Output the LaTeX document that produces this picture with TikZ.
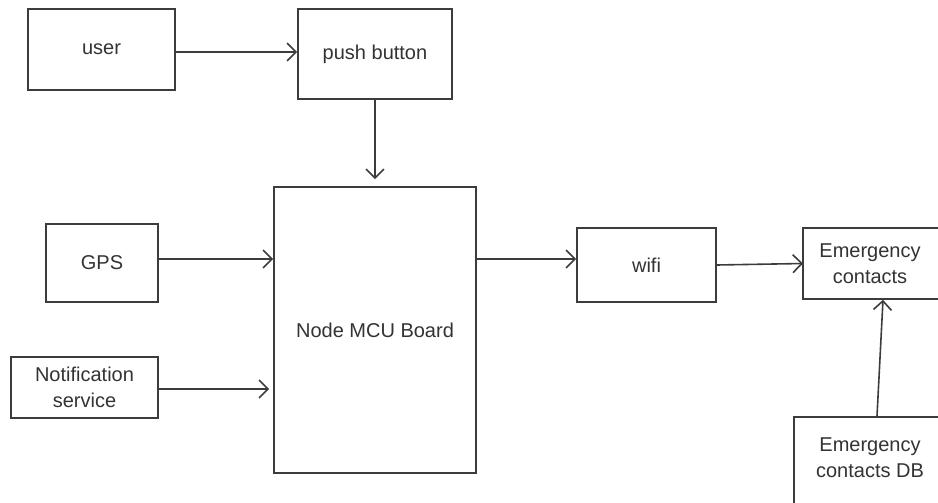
\documentclass[tikz,border=0pt]{standalone}
\usepackage{fontspec}
\setmainfont{Liberation Sans}
\usetikzlibrary{arrows.meta}
\definecolor{ln}{HTML}{3C3C3C}
\definecolor{tx}{HTML}{333333}
\tikzset{
  blk/.style={draw=ln, line width=1.6pt, rectangle, inner sep=0pt, align=center,
    text=tx, font=\fontsize{20}{26}\selectfont},
  lbl/.style={text=tx, font=\fontsize{20}{26}\selectfont, align=center},
  conn/.style={draw=ln, line width=1.6pt, -{Straight Barb[length=9pt,width=18pt,line width=1.6pt]}}
}
\begin{document}
\begin{tikzpicture}[x=1pt,y=-1pt]
\useasboundingbox[fill=white] (0,0) rectangle (938,503);
\clip (0,0) rectangle (938,503);
\node[blk, minimum width=147pt, minimum height=81pt] (user) at (101.5,49.5) {user};
\node[blk, minimum width=154pt, minimum height=90pt] (push) at (375,54) {push button};
\node[blk, minimum width=202pt, minimum height=286pt] (mcu) at (375,330) {Node MCU Board};
\node[blk, minimum width=112pt, minimum height=78pt] (gps) at (102,263) {GPS};
\node[blk, minimum width=147pt, minimum height=61pt] (notif) at (84.5,387.5) {Notification\\service};
\node[blk, minimum width=139pt, minimum height=74pt] (wifi) at (646.5,265) {wifi};
\node[blk, minimum width=144pt, minimum height=71pt] (ec) at (875,263.5) {};
\node[lbl] (ect) at (870,263.5) {Emergency\\contacts};
\node[blk, minimum width=152pt, minimum height=100pt] (db) at (870,467) {};
\node[lbl] (dbt) at (870,458) {Emergency\\contacts DB};
\draw[conn] ([yshift=-2.5pt]user.east) -- ([yshift=-2.5pt]user.east -| push.west);
\draw[conn, shorten >=7pt] (push.south) -- (mcu.north);
\draw[conn] ([yshift=4pt]gps.east) -- ([yshift=4pt]gps.east -| mcu.west);
\draw[conn, shorten >=4pt] ([yshift=-1.5pt]notif.east) -- ([yshift=-1.5pt]notif.east -| mcu.west);
\draw[conn] ([yshift=6pt]wifi.west -| mcu.east) -- ([yshift=6pt]wifi.west);
\draw[conn] (wifi.east) -- ([xshift=-72pt]ec.center);
\draw[conn] ([xshift=7pt]db.north) -- ([xshift=8pt]ec.south);
\end{tikzpicture}
\end{document}
